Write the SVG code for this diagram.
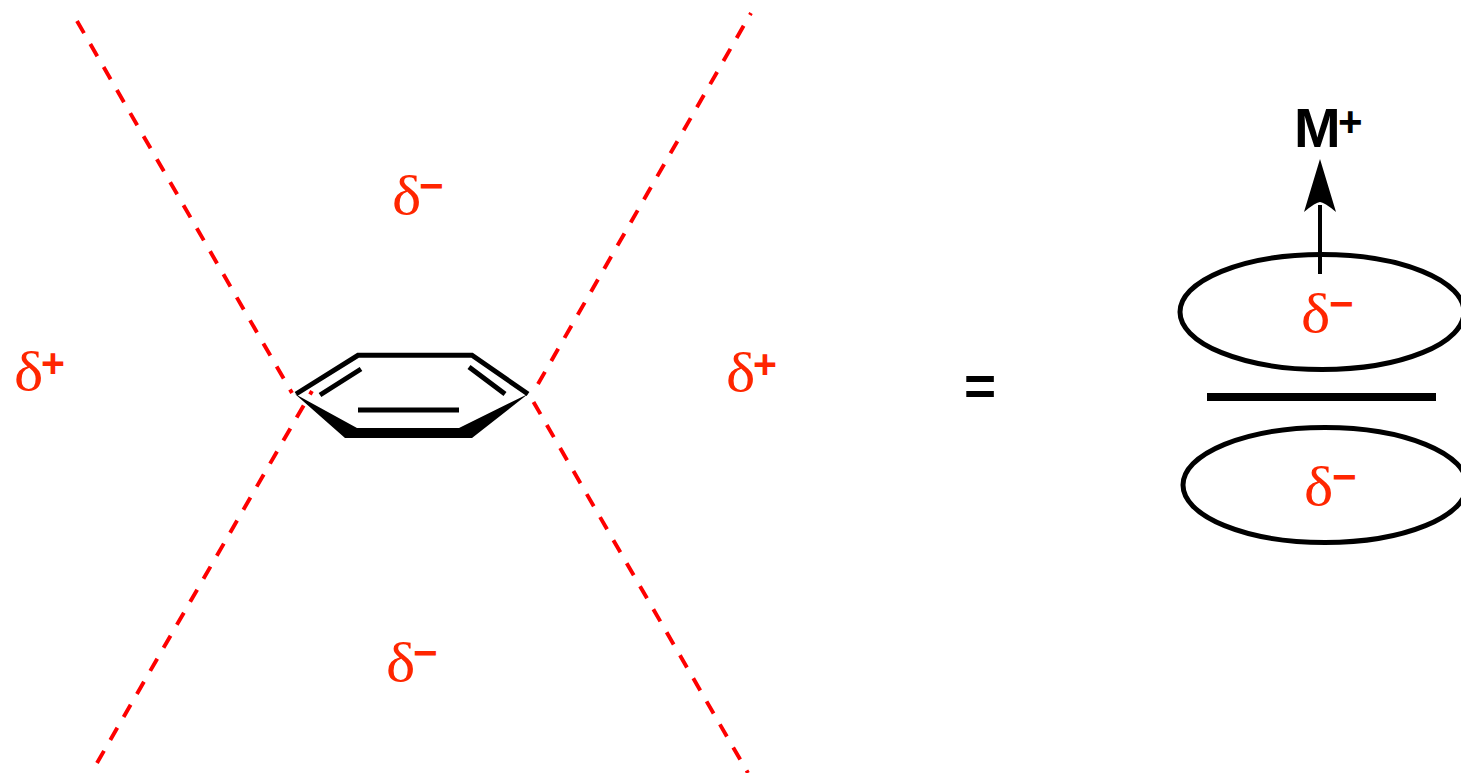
<svg xmlns="http://www.w3.org/2000/svg" width="1461" height="773" viewBox="0 0 1461 773">
<style>
.dash{fill:none;stroke:#fe0000;stroke-width:3.9;stroke-dasharray:14 12.6}
.bond{fill:none;stroke:#000;stroke-width:5}
.bold{fill:#000;stroke:none}
.d{font-family:"Liberation Serif",serif;font-size:54px;fill:#ff2600}
.m{font-family:"Liberation Sans",sans-serif;font-weight:bold;font-size:42px;fill:#ff2600}
.p{font-family:"Liberation Sans",sans-serif;font-weight:bold;font-size:41px;fill:#ff2600}
.orb{fill:none;stroke:#000;stroke-width:5}
.k{font-family:"Liberation Sans",sans-serif;font-weight:bold;fill:#000}
</style>
<rect width="1461" height="773" fill="#fff"/>
<g id="connectors">
<path class="dash" d="M77 21L292 393"/>
<path class="dash" d="M538 384L751 13"/>
<path class="dash" d="M97 763L312 391"/>
<path class="dash" d="M533.5 402L748 773"/>
</g>
<g id="benzene">
<path d="M296 394L358 355.300H472L528 394" class="bond"/>
<path d="M320 395L361 369M358 410H459M469 367L505 394" class="bond"/>
<path class="bold" d="M295 394L357 428H459L528 394L472 438H345Z"/>
</g>
<g id="label-delta-top"><text class="d" transform="translate(392 214) scale(1.15 1)">δ</text><text class="m" x="419" y="200">−</text></g>
<g id="label-delta-left"><text class="d" transform="translate(14 390) scale(1.15 1)">δ</text><text class="p" x="41" y="377">+</text></g>
<g id="label-delta-right"><text class="d" transform="translate(726 391) scale(1.15 1)">δ</text><text class="p" x="753" y="378">+</text></g>
<g id="label-delta-bottom"><text class="d" transform="translate(386 681) scale(1.15 1)">δ</text><text class="m" x="413" y="667">−</text></g>
<g id="equals"><text class="k" x="980" y="405" text-anchor="middle" font-size="55">=</text></g>
<g id="orbital-top">
<ellipse class="orb" cx="1322" cy="312" rx="142" ry="57.500"/>
<text class="d" transform="translate(1301 332) scale(1.15 1)">δ</text><text class="m" x="1329" y="318">−</text>
</g>
<g id="pi-bond"><rect x="1207" y="393" width="229" height="8" fill="#000"/></g>
<g id="orbital-bottom">
<ellipse class="orb" cx="1325" cy="485" rx="142" ry="57.500"/>
<text class="d" transform="translate(1304 505) scale(1.15 1)">δ</text><text class="m" x="1332" y="491">−</text>
</g>
<g id="metal">
<text class="k" x="1294" y="147" font-size="56">M</text>
<text class="k" x="1338" y="136" font-size="42">+</text>
</g>
<g id="arrow">
<path d="M1320 274V205" stroke="#000" stroke-width="4" fill="none"/>
<path d="M1320 159L1336 212Q1324 202 1320 202Q1316 202 1304 212Z" fill="#000"/>
</g>
</svg>
